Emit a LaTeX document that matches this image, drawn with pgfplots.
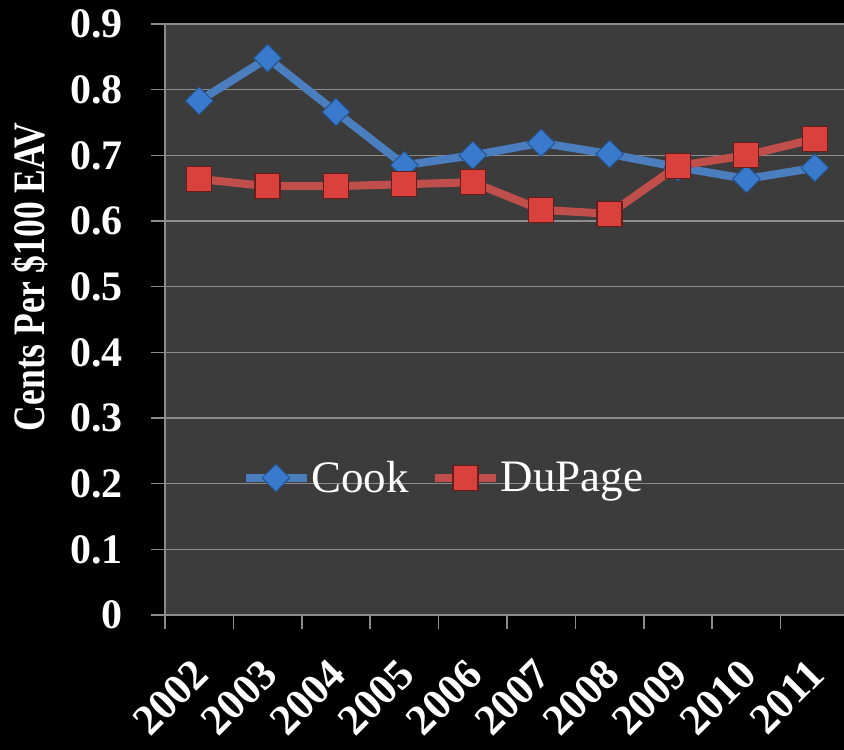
\documentclass[border=0pt]{standalone}
\usepackage{graphicx}
\usepackage{pgfplots}
\pgfplotsset{compat=1.18}
\usepackage{fontspec}
\setmainfont{Liberation Serif}
\definecolor{bg}{RGB}{60,60,60}
\definecolor{gridc}{RGB}{140,140,140}
\definecolor{cookline}{RGB}{74,126,190}
\definecolor{cookfill}{RGB}{58,122,205}
\definecolor{cookedge}{RGB}{38,82,140}
\definecolor{dupline}{RGB}{192,78,75}
\definecolor{dupfill}{RGB}{218,64,60}
\definecolor{dupedge}{RGB}{105,28,28}
\begin{document}
\begin{tikzpicture}
\fill[black] (-165pt,-135pt) rectangle (679pt,615pt);
\path[use as bounding box] (-165pt,-135pt) rectangle (679pt,615pt);
\begin{axis}[
  at={(0pt,0pt)}, anchor=south west,
  scale only axis, width=679pt, height=591pt,
  xmin=-0.5, xmax=9.427, ymin=0, ymax=0.9,
  axis background/.style={fill=bg},
  axis x line*=bottom, axis y line*=left,
  axis line style={gridc, line width=1.5pt, -},
  ytick={0,0.1,...,0.9},
  ymajorgrids, grid style={gridc, line width=1.5pt},
  xtick={0,...,9},
  xticklabels={2002,2003,2004,2005,2006,2007,2008,2009,2010,2011},
  minor xtick={-0.5,0.5,...,9.5},
  major x tick style={draw=none},
  minor x tick style={draw=gridc, line width=1.5pt},
  y tick style={gridc, line width=1.5pt},
  major tick length=14pt, minor tick length=14pt,
  tick align=outside,
  /pgf/number format/assume math mode=true,
  /pgf/number format/fixed,
  ticklabel style={text=white, font=\fontsize{42}{42}\selectfont\bfseries},
  yticklabel style={inner sep=0pt, anchor=east, xshift=-28pt},
  xticklabel style={inner sep=0pt, yshift=-38pt, xshift=2pt, rotate=45, anchor=east, font=\fontsize{43}{43}\selectfont\bfseries},
  legend style={at={(0.113,0.232)}, anchor=west, draw=none, fill=none,
    legend columns=-1, font=\fontsize{45}{45}\selectfont, text=white,
    inner sep=0pt, nodes={inner sep=0.5pt},
    /tikz/every even column/.append style={column sep=22pt}},
  legend image code/.code={\draw[mark repeat=2,mark phase=2,#1] plot coordinates {(0pt,0pt) (30pt,0pt) (61pt,0pt)};},
  clip=false,
]
\addplot[cookline, line width=8pt, line join=round, mark=square*, mark size=9.8pt,
  mark options={rotate=45, fill=cookfill, draw=cookedge, line width=1pt, solid}]
  coordinates {(0,0.783) (1,0.848) (2,0.766) (3,0.685) (4,0.700) (5,0.719) (6,0.702) (7,0.682) (8,0.664) (9,0.681)};
\addlegendentry{Cook}
\addplot[dupline, line width=8pt, line join=round, mark=square*, mark size=12.5pt,
  mark options={fill=dupfill, draw=dupedge, line width=1.2pt, solid}]
  coordinates {(0,0.664) (1,0.653) (2,0.653) (3,0.656) (4,0.659) (5,0.617) (6,0.611) (7,0.684) (8,0.700) (9,0.725)};
\addlegendentry{DuPage}
\end{axis}
\node[rotate=90, text=white, font=\fontsize{45}{45}\selectfont\bfseries] at (-135pt,338pt) {\scalebox{0.79}[1]{Cents Per \$100 EAV}};
\end{tikzpicture}
\end{document}
